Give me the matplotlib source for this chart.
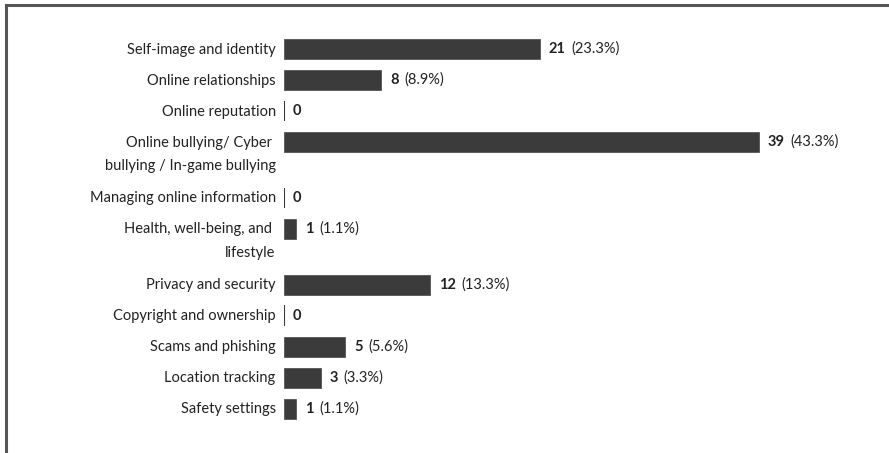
import matplotlib.pyplot as plt
import matplotlib.transforms as mtransforms
from matplotlib.lines import Line2D

plt.rcParams['font.family'] = ['Lato', 'DejaVu Sans']

categories = [
    "Self-image and identity",
    "Online relationships",
    "Online reputation",
    "Online bullying/ Cyber \nbullying / In-game bullying",
    "Managing online information",
    "Health, well-being, and \nlifestyle",
    "Privacy and security",
    "Copyright and ownership",
    "Scams and phishing",
    "Location tracking",
    "Safety settings",
]
counts = [21, 8, 0, 39, 0, 1, 12, 0, 5, 3, 1]
percents = ["23.3%", "8.9%", "", "43.3%", "", "1.1%", "13.3%", "", "5.6%", "3.3%", "1.1%"]

BAR = '#3b3b3b'
TXT = '#222222'
W, H = 889, 453
FS = 10.5

# row positions: two-line labels push the next row down a bit
ypos = []
y = 0.0
for lab in categories:
    ypos.append(y)
    y += 1 + 0.8 * lab.count("\n")

fig = plt.figure(figsize=(W / 100, H / 100), dpi=100)
ax = fig.add_axes([284 / W, 0, 0.977 - 284 / W, 1])
ax.set_xlim(0, 48)
ax.set_ylim((H - 49) / 31, -49 / 31)
ax.axis('off')

for yy, c, p, lab in zip(ypos, counts, percents, categories):
    if c > 0:
        ax.barh(yy, c, height=0.65, color=BAR, edgecolor='#555555', linewidth=0.6)
    else:
        ax.plot([0, 0], [yy - 0.33, yy + 0.33], color=BAR, lw=1.5, solid_capstyle='butt')

    # category label, first line centred on the bar
    off = mtransforms.ScaledTranslation(-6 / 72, 4.6 / 72, fig.dpi_scale_trans)
    ax.text(0, yy, lab, ha='right', va='top', fontsize=FS, color=TXT,
            linespacing=1.85, transform=ax.transData + off)

    t = ax.annotate(str(c), xy=(c, yy), xytext=(6.5, 0), textcoords='offset points',
                    ha='left', va='center', fontsize=FS, fontweight='bold', color=TXT)
    if p:
        ax.annotate("(" + p + ")", xy=(1, 0.5), xycoords=t, xytext=(4, 0),
                    textcoords='offset points', ha='left', va='center',
                    fontsize=FS, color=TXT)

# frame: top and left edges only
fig.add_artist(Line2D([6 / W, 1], [1 - 5 / H, 1 - 5 / H], transform=fig.transFigure,
                      color='#555555', lw=2.2))
fig.add_artist(Line2D([6 / W, 6 / W], [0, 1 - 5 / H], transform=fig.transFigure,
                      color='#555555', lw=2.2))

fig.savefig('out.png', dpi=100, facecolor='white')
